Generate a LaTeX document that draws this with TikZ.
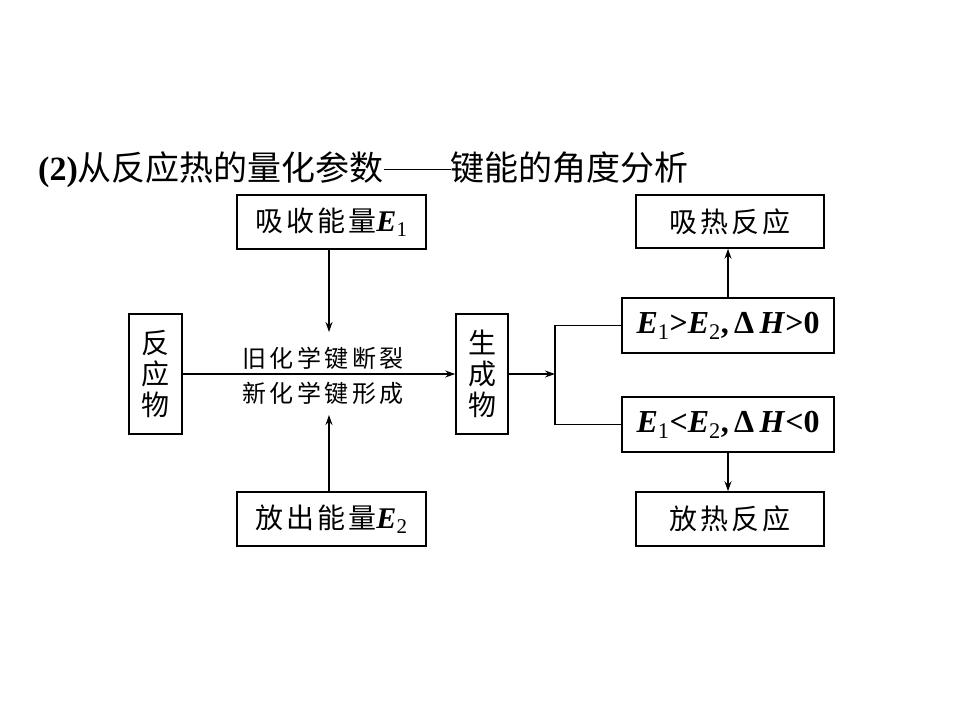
\documentclass[tikz,border=0pt]{standalone}
\usepackage{fontspec}
\setmainfont{Liberation Serif}
\newfontfamily\cjk{Noto Sans CJK SC}
\usetikzlibrary{arrows.meta}
\newcommand\gp{\hspace{3pt}}
\newcommand\gq{\hspace{3.5pt}}
\newcommand\EE[1]{\textbf{\textit{E}}\textsubscript{#1}}
\begin{document}
\begin{tikzpicture}[x=1pt,y=-1pt,
  bx/.style={draw, line width=1.6pt, inner sep=0pt, font=\cjk\fontsize{28}{30}\selectfont},
  vbx/.style={draw, line width=1.6pt, inner sep=0pt, align=center, minimum width=53pt, minimum height=120pt, font=\cjk\fontsize{28}{31}\selectfont},
  conn/.style={line width=1.3pt},
  arr/.style={conn, -{Stealth[length=10pt,width=7pt]}},
  lbl/.style={font=\cjk\fontsize{24}{26}\selectfont, inner sep=0pt},
  cond/.style={bx, minimum width=212pt, minimum height=55pt, font=\fontsize{32}{34}\selectfont}]
\useasboundingbox (0,0) rectangle (960,720);
% title
\node[anchor=west, inner sep=0pt, font=\fontsize{34}{36}\selectfont] (title) at (38,170)
  {\textbf{(2)}{\cjk 从反应热的量化参数\rule[11pt]{67pt}{1.3pt}键能的角度分析}};
% left part
\node[bx, minimum width=189pt, minimum height=54pt] (e1) at (331.5,222) {吸\gp 收\gp 能\gp 量{\rmfamily\fontsize{30}{32}\selectfont\EE{1}}};
\node[bx, minimum width=189pt, minimum height=54pt] (e2) at (331.5,519) {放\gp 出\gp 能\gp 量{\rmfamily\fontsize{30}{32}\selectfont\EE{2}}};
\node[vbx] (r) at (155.5,374) {反\\应\\物};
\node[vbx, minimum width=52pt] (p) at (482,374) {生\\成\\物};
\node[lbl] (l1) at (323,358) {旧\gq 化\gq 学\gq 键\gq 断\gq 裂};
\node[lbl] (l2) at (323,393) {新\gq 化\gq 学\gq 键\gq 形\gq 成};
\coordinate (t1) at (329,332);
\coordinate (t2) at (329,415);
\draw[arr] (r.east) -- (p.west);
\draw[arr] (e1.south -| t1) -- (t1);
\draw[arr] (e2.north -| t2) -- (t2);
% right part
\node[bx, minimum width=188pt, minimum height=53pt] (endo) at (730,221.5) {吸\gp 热\gp 反\gp 应};
\node[cond] (h1) at (728,325.5) {\EE{1}\textbf{>}\EE{2}\textbf{,\,Δ\,\textit{H}>0}};
\node[cond] (h2) at (728,424.5) {\EE{1}\textbf{<}\EE{2}\textbf{,\,Δ\,\textit{H}<0}};
\node[bx, minimum width=188pt, minimum height=54pt] (exo) at (730,519) {放\gp 热\gp 反\gp 应};
\coordinate (bj) at (555,374);
\draw[arr] (p.east) -- (bj);
\draw[conn] (h1.west) -- (h1.west -| bj) -- (h2.west -| bj) -- (h2.west);
\draw[arr] (h1.north -| endo.south) ++(-2,0) coordinate (u1) -- (u1 |- endo.south);
\draw[arr] (h2.south -| exo.north) ++(-2,0) coordinate (u2) -- (u2 |- exo.north);
\end{tikzpicture}
\end{document}
